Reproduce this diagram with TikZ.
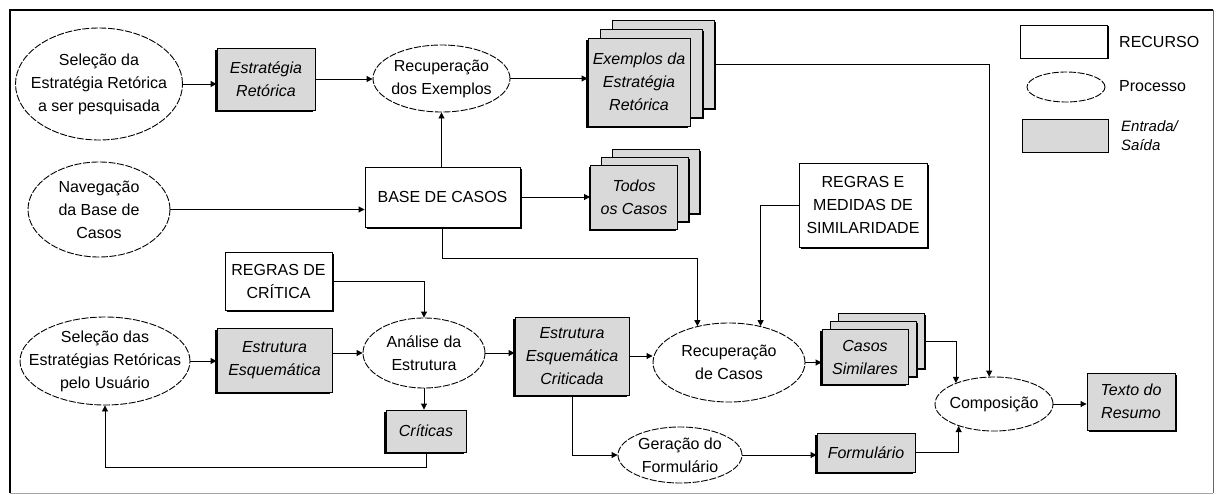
\documentclass[tikz,border=0pt]{standalone}
\usepackage{fontspec}
\setmainfont{Liberation Sans}
\usetikzlibrary{shapes.geometric,arrows.meta,shadows}
\definecolor{io}{gray}{0.85}
\begin{document}
\begin{tikzpicture}[x=1pt,y=-1pt,
  font=\fontsize{16}{23}\selectfont,
  proc/.style={draw, ellipse, line width=0.9pt, dash pattern=on 7pt off 1.6pt, inner sep=0, fill=white},
  txt/.style={align=center, inner sep=0},
  res/.style={draw, line width=0.9pt, fill=white, align=center, inner sep=2pt,
    drop shadow={shadow xshift=1.8pt, shadow yshift=-1.8pt, fill=black, opacity=1}},
  iobox/.style={draw, line width=0.9pt, fill=io, align=center, inner sep=2pt,
    font=\fontsize{16}{23}\selectfont\itshape,
    drop shadow={shadow xshift=-1.8pt, shadow yshift=-1.8pt, fill=black, opacity=1}},
  ioright/.style={draw, line width=0.9pt, fill=io, align=center, inner sep=2pt,
    font=\fontsize{16}{23}\selectfont\itshape,
    drop shadow={shadow xshift=1.8pt, shadow yshift=-1.8pt, fill=black, opacity=1}},
  arr/.style={line width=0.9pt, -{Triangle[length=6pt,width=6pt]}},
  ln/.style={line width=0.9pt}
]
\useasboundingbox[fill=white] (0,0) rectangle (1216,495);
% frame
\draw[line width=1.4pt] (10,493) -- (10,10) -- (1213,10);
\draw[line width=1pt, black!60] (1213,10) -- (1213,493);
\draw[line width=1pt, black!35] (10,493) -- (1213,493);

% ---- processes
\node[proc, minimum width=167, minimum height=112] (sel1) at (99,84) {};
\node[txt] (sel1t) at (sel1) {Seleção da\\Estratégia Retórica\\a ser pesquisada};
\node[proc, minimum width=137, minimum height=67] (rec1) at (441.5,78.5) {};
\node[txt] (rec1t) at (rec1) {Recuperação\\dos Exemplos};
\node[proc, minimum width=142, minimum height=95] (nav) at (99,209.5) {};
\node[txt] (navt) at (nav) {Navegação\\da Base de\\Casos};
\node[proc, minimum width=170, minimum height=88] (sel2) at (105,361) {};
\node[txt] (sel2t) at (sel2) {Seleção das\\Estratégias Retóricas\\pelo Usuário};
\node[proc, minimum width=122, minimum height=70] (an) at (424,353) {};
\node[txt] (ant) at (an) {Análise da\\Estrutura};
\node[proc, minimum width=152, minimum height=79] (rc) at (729,362.5) {};
\node[txt] (rct) at (rc) {Recuperação\\de Casos};
\node[proc, minimum width=124, minimum height=56] (ger) at (680,455) {};
\node[txt] (gert) at (ger) {Geração do\\Formulário};
\node[proc, minimum width=118, minimum height=54] (comp) at (994,404) {};
\node[txt] (compt) at (comp) {Composição};

% ---- resources
\node[res, minimum width=155, minimum height=60] (base) at (442.5,197) {BASE DE CASOS};
\node[res, minimum width=128, minimum height=84] (regsim) at (863,205) {REGRAS E\\MEDIDAS DE\\SIMILARIDADE};
\node[res, minimum width=107, minimum height=58] (regc) at (278.5,281) {REGRAS DE\\CRÍTICA};

% ---- input / output
\node[iobox, minimum width=98, minimum height=62] (er) at (266,79) {Estratégia\\Retórica};
\node[ioright, minimum width=102, minimum height=88] (ex3) at (663,64) {};
\node[ioright, minimum width=102, minimum height=88] (ex2) at (651,73) {};
\node[iobox, minimum width=102, minimum height=88] (ex1) at (639,82) {Exemplos da\\Estratégia\\Retórica};
\node[ioright, minimum width=87, minimum height=64] (t3) at (656,181) {};
\node[ioright, minimum width=87, minimum height=64] (t2) at (645,189) {};
\node[iobox, minimum width=87, minimum height=64] (t1) at (634,197) {Todos\\os Casos};
\node[iobox, minimum width=115, minimum height=64] (estq) at (274.5,360) {Estrutura\\Esquemática};
\node[iobox, minimum width=80, minimum height=42] (crit) at (426,431) {Críticas};
\node[iobox, minimum width=114, minimum height=78] (estc) at (572,356) {Estrutura\\Esquemática\\Criticada};
\node[ioright, minimum width=86, minimum height=55] (cs3) at (881,341) {};
\node[ioright, minimum width=86, minimum height=55] (cs2) at (873,349) {};
\node[iobox, minimum width=86, minimum height=55] (cs1) at (865,357) {Casos\\Similares};
\node[iobox, minimum width=98, minimum height=39] (form) at (866,452.5) {Formulário};
\node[ioright, minimum width=88, minimum height=57] (tr) at (1131,401.5) {Texto do\\Resumo};

% ---- legend
\node[draw, line width=0.9pt, fill=white, minimum width=87, minimum height=33, inner sep=0,
  drop shadow={shadow xshift=1.5pt, shadow yshift=-1.5pt, fill=black, opacity=1}] (lgr) at (1063.5,41.5) {};
\node[anchor=west, inner sep=0] (lgrt) at (1119,42) {RECURSO};
\node[proc, minimum width=78, minimum height=30] (lgp) at (1066,87) {};
\node[anchor=west, inner sep=0] (lgpt) at (1119,86) {Processo};
\node[draw, line width=0.9pt, fill=io, minimum width=86, minimum height=33, inner sep=0] (lgio) at (1065,135.5) {};
\node[anchor=west, inner sep=0, align=left, font=\fontsize{15}{19}\selectfont\itshape] (lgiot) at (1121,136) {Entrada/\\Saída};

% ---- connectors
\draw[arr] (sel1.east) -- (sel1.east -| er.west);
\draw[arr] (er.east) -- (er.east -| rec1.west);
\draw[arr] (rec1.east) -- (rec1.east -| ex1.west);
\draw[arr] (ex3.east) -| (comp.100);
\draw[arr] (nav.east) -- (nav.east -| base.west);
\draw[arr] (rec1.south |- base.north) -- (rec1.south);
\draw[arr] (base.east) -- (base.east -| t1.west);
\draw[arr] (base.south) -- (base.south |- 0,258) -| (rc.131);
\draw[arr] (regsim.west) -| (rc.49);
\draw[arr] (regc.east) -| (an.north);
\draw[arr] (sel2.east) -- (sel2.east -| estq.west);
\draw[arr] (estq.east |- an.west) -- (an.west);
\draw[arr] (an.south) -- (an.south |- crit.north);
\draw[arr] (crit.south) -- (crit.south |- 0,467) -| (sel2.south);
\draw[arr] (an.east) -- (an.east -| estc.west);
\draw[arr] (estc.east) -- (estc.east -| rc.west);
\draw[arr] (rc.east) -- (rc.east -| cs1.west);
\draw[arr] (cs3.east) -| (comp.151);
\draw[arr] (estc.south) |- (ger.west);
\draw[arr] (ger.east) -- (ger.east -| form.west);
\draw[arr] (form.east) -| (comp.212);
\draw[arr] (comp.east) -- (comp.east -| tr.west);
\end{tikzpicture}
\end{document}
